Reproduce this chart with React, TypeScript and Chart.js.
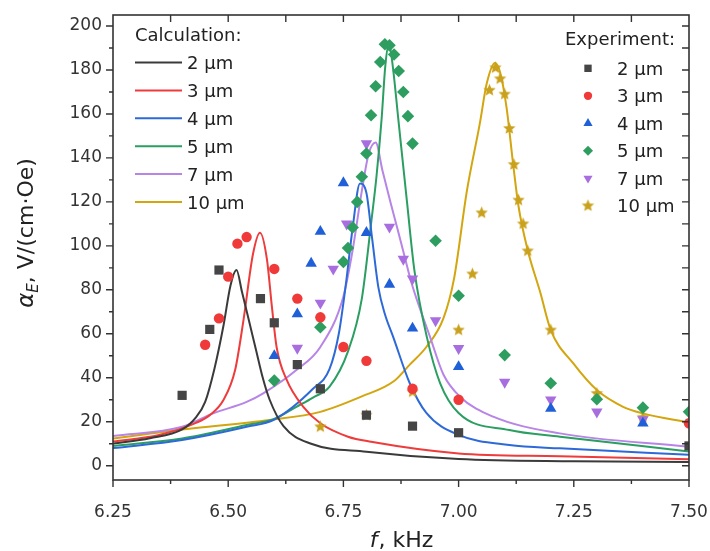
import React, { useEffect, useRef } from 'react';
import { Chart, registerables } from 'chart.js';
import { drawPoint } from 'chart.js/helpers';

Chart.register(...registerables);

const FONT = "'DejaVu Sans', 'Liberation Sans', Arial, sans-serif";

// ---- axis ticks ----
const xTickValues = [6.25, 6.5, 6.75, 7.0, 7.25, 7.5];
const yTickValues = [0, 20, 40, 60, 80, 100, 120, 140, 160, 180, 200];

// ---- labels ----
const sizeLabels = ['2 μm', '3 μm', '4 μm', '5 μm', '7 μm', '10 μm'];
const calcTitle = 'Calculation:';
const expTitle = 'Experiment:';

// ---- calculation curves (f in kHz, alpha_E in V/(cm·Oe)) ----
const calc2F = [6.25, 6.33, 6.40, 6.43, 6.45, 6.47, 6.49, 6.505, 6.518, 6.53, 6.545, 6.56, 6.575, 6.59, 6.62, 6.68, 6.80, 7.00, 7.25, 7.50];
const calc2V = [10, 12.5, 16.5, 22, 29, 44, 64, 82, 89, 79, 66, 53, 40, 30, 18, 10, 6.4, 3, 2, 1.7];

const calc3F = [6.25, 6.35, 6.43, 6.46, 6.49, 6.515, 6.533, 6.554, 6.569, 6.584, 6.595, 6.605, 6.627, 6.663, 6.70, 6.76, 6.81, 7.00, 7.22, 7.50];
const calc3V = [11, 14, 19.5, 23, 30, 43.5, 66, 96.5, 106, 94, 72, 54, 39, 26.8, 19.3, 13.2, 10.9, 5.6, 4.3, 2.9];

const calc4F = [6.25, 6.40, 6.54, 6.60, 6.684, 6.72, 6.74, 6.755, 6.77, 6.786, 6.80, 6.812, 6.826, 6.84, 6.858, 6.894, 6.93, 7.00, 7.11, 7.22, 7.50];
const calc4V = [8, 11.7, 17.7, 21, 35, 44, 60, 82, 108, 128.4, 124, 104, 81, 69, 58.6, 37.5, 24, 14, 9.4, 7.9, 5];

const calc5F = [6.25, 6.40, 6.54, 6.597, 6.648, 6.684, 6.72, 6.76, 6.79, 6.81, 6.822, 6.833, 6.841, 6.849, 6.857, 6.869, 6.888, 6.904, 6.931, 6.96, 7.00, 7.11, 7.22, 7.50];
const calc5V = [9, 12.4, 18.5, 21, 26.8, 31, 36, 52, 76, 110, 132, 158, 182, 192, 182, 158, 120, 89, 58.6, 37.5, 24, 16.2, 13.2, 6.5];

const calc7F = [6.25, 6.40, 6.467, 6.54, 6.576, 6.648, 6.70, 6.75, 6.77, 6.79, 6.805, 6.82, 6.835, 6.852, 6.867, 6.883, 6.898, 6.938, 6.967, 7.003, 7.075, 7.22, 7.50];
const calc7V = [13.5, 17.7, 23.8, 29, 32.9, 43.5, 54, 77, 98, 125, 142, 147, 134, 120, 108, 95, 83, 58.6, 41.5, 31.4, 22.3, 14.7, 8.6];

const calc10F = [6.25, 6.40, 6.59, 6.70, 6.79, 6.86, 6.894, 6.93, 6.967, 6.99, 7.018, 7.046, 7.061, 7.079, 7.09, 7.104, 7.119, 7.13, 7.15, 7.177, 7.20, 7.249, 7.30, 7.357, 7.40, 7.50];
const calc10V = [12.4, 16.5, 20.8, 24.5, 31.5, 38.5, 46, 54, 67, 85, 125, 155.6, 173.8, 183.2, 179, 163, 136, 118, 98, 79, 61.7, 46.5, 34.4, 26.8, 23.8, 19.6];

// ---- experiment points ----
const exp2F = [6.40, 6.46, 6.48, 6.57, 6.60, 6.65, 6.70, 6.80, 6.90, 7.00, 7.50];
const exp2V = [32, 62, 89, 76, 65, 46, 35, 23, 18, 15, 9];

const exp3F = [6.45, 6.48, 6.50, 6.52, 6.54, 6.60, 6.65, 6.70, 6.75, 6.80, 6.90, 7.00, 7.50];
const exp3V = [55, 67, 86, 101, 104, 89.5, 76, 67.5, 54, 47.7, 35, 30, 19.3];

const exp4F = [6.60, 6.65, 6.68, 6.70, 6.75, 6.80, 6.85, 6.90, 7.00, 7.20, 7.40];
const exp4V = [50, 69, 92, 106.5, 128.6, 106, 82.5, 62.5, 45, 26, 19.3];

const exp5F = [6.60, 6.70, 6.75, 6.76, 6.77, 6.78, 6.79, 6.80, 6.81, 6.82, 6.83, 6.84, 6.85, 6.86, 6.87, 6.88, 6.89, 6.90, 6.95, 7.00, 7.10, 7.20, 7.30, 7.40, 7.50];
const exp5V = [38.7, 63, 92.7, 99, 108.4, 120, 131.4, 142, 159.4, 172.6, 183.6, 191.7, 191.2, 187, 179.5, 170, 159, 146.5, 102.3, 77.3, 50.3, 37.5, 30.2, 26.4, 24.5];

const exp7F = [6.65, 6.70, 6.728, 6.757, 6.80, 6.85, 6.88, 6.90, 6.95, 7.00, 7.10, 7.20, 7.30, 7.40];
const exp7V = [53.5, 74, 89.5, 110, 146.5, 108.6, 94, 85, 66, 53.4, 38, 30, 24.5, 21];

const exp10F = [6.70, 6.80, 6.90, 7.00, 7.03, 7.05, 7.067, 7.08, 7.09, 7.10, 7.11, 7.12, 7.13, 7.14, 7.15, 7.20, 7.30, 7.40];
const exp10V = [17.7, 23, 33.6, 61.7, 87.2, 115, 170.8, 181, 176, 169, 153.4, 137, 120.8, 110, 97.7, 61.7, 32.9, 22];

const calcColors = ['#3a3a3a', '#ee3b3b', '#2d6ad8', '#2b9e62', '#b785e6', '#d3a50e'];
const expColors = ['#454545', '#f03a3a', '#1f5fd8', '#2e9e60', '#a86ee0', '#c9a11c'];

const toXY = (f: number[], v: number[]) => f.map((x, i) => ({ x, y: v[i] }));

function makeStar(color: string, r: number) {
  const c = document.createElement('canvas');
  const s = Math.ceil(r * 2 + 2);
  c.width = s;
  c.height = s;
  const g = c.getContext('2d')!;
  g.fillStyle = color;
  g.beginPath();
  for (let i = 0; i < 10; i++) {
    const rad = i % 2 === 0 ? r : r * 0.45;
    const a = -Math.PI / 2 + (i * Math.PI) / 5;
    const px = s / 2 + rad * Math.cos(a);
    const py = s / 2 + rad * Math.sin(a);
    if (i === 0) g.moveTo(px, py);
    else g.lineTo(px, py);
  }
  g.closePath();
  g.fill();
  return c;
}

const framePlugin = {
  id: 'frameAndLegends',
  afterDraw(chart: any) {
    const ctx = chart.ctx as CanvasRenderingContext2D;
    const { left, right, top, bottom } = chart.chartArea;
    const xs = chart.scales.x;
    const ys = chart.scales.y;
    const axisColor = '#333333';
    ctx.save();
    ctx.strokeStyle = axisColor;
    ctx.lineWidth = 1.6;
    ctx.strokeRect(left, top, right - left, bottom - top);
    ctx.lineWidth = 1.4;
    ctx.beginPath();
    // x ticks
    for (let i = 0; i < xTickValues.length; i++) {
      const v = xTickValues[i];
      const px = xs.getPixelForValue(v);
      ctx.moveTo(px, bottom);
      ctx.lineTo(px, bottom + 7);
      if (i > 0 && i < xTickValues.length - 1) {
        ctx.moveTo(px, top);
        ctx.lineTo(px, top + 7);
      }
      if (i < xTickValues.length - 1) {
        const m = (v + xTickValues[i + 1]) / 2;
        const pm = xs.getPixelForValue(m);
        ctx.moveTo(pm, bottom);
        ctx.lineTo(pm, bottom + 4);
        ctx.moveTo(pm, top);
        ctx.lineTo(pm, top + 7);
      }
    }
    // y ticks
    for (let i = 0; i < yTickValues.length; i++) {
      const v = yTickValues[i];
      const py = ys.getPixelForValue(v);
      ctx.moveTo(left, py);
      ctx.lineTo(left - 7, py);
      ctx.moveTo(right, py);
      ctx.lineTo(right - 7, py);
      if (i < yTickValues.length - 1) {
        const m = (v + yTickValues[i + 1]) / 2;
        const pm = ys.getPixelForValue(m);
        ctx.moveTo(left, pm);
        ctx.lineTo(left - 4, pm);
        ctx.moveTo(right, pm);
        ctx.lineTo(right - 7, pm);
      }
    }
    ctx.stroke();

    // axis titles
    ctx.fillStyle = '#222222';
    ctx.textBaseline = 'alphabetic';
    // x title
    const fx = 'italic 22px ' + FONT;
    const nx = '22px ' + FONT;
    ctx.font = fx;
    const wf = ctx.measureText('f').width;
    ctx.font = nx;
    const wr = ctx.measureText(', kHz').width;
    const cx = (left + right) / 2;
    const sx = cx - (wf + wr) / 2;
    ctx.font = fx;
    ctx.textAlign = 'left';
    ctx.fillText('f', sx, 547);
    ctx.font = nx;
    ctx.fillText(', kHz', sx + wf + 1, 547);
    // y title
    ctx.save();
    ctx.translate(33, 233);
    ctx.rotate(-Math.PI / 2);
    const fa = 'italic 23px ' + FONT;
    const fe = 'italic 15px ' + FONT;
    const fr = '22px ' + FONT;
    ctx.font = fa;
    const wa = ctx.measureText('α').width;
    ctx.font = fe;
    const we = ctx.measureText('E').width;
    ctx.font = fr;
    const wrest = ctx.measureText(', V/(cm·Oe)').width;
    let tx = -(wa + we + wrest) / 2;
    ctx.font = fa;
    ctx.fillText('α', tx, 0);
    tx += wa;
    ctx.font = fe;
    ctx.fillText('E', tx, 5);
    tx += we;
    ctx.font = fr;
    ctx.fillText(', V/(cm·Oe)', tx, 0);
    ctx.restore();

    // legends
    const ds = chart.data.datasets;
    const calcSets = ds.filter((d: any) => d.group === 'calc');
    const expSets = ds.filter((d: any) => d.group === 'exp');
    ctx.font = '18px ' + FONT;
    ctx.fillStyle = '#222222';
    ctx.fillText(calcTitle, 135, 41);
    calcSets.forEach((d: any, i: number) => {
      const y = 62.5 + i * 27.9;
      ctx.strokeStyle = d.borderColor;
      ctx.lineWidth = 2;
      ctx.beginPath();
      ctx.moveTo(135, y);
      ctx.lineTo(182, y);
      ctx.stroke();
      ctx.fillStyle = '#222222';
      ctx.fillText(d.label, 187, y + 6.5);
    });
    ctx.fillText(expTitle, 565, 45);
    expSets.forEach((d: any, i: number) => {
      const y = 68.3 + i * 27.5;
      ctx.fillStyle = d.backgroundColor;
      ctx.strokeStyle = d.backgroundColor;
      const isImg = typeof d.pointStyle !== 'string';
      drawPoint(ctx, {
        pointStyle: d.pointStyle,
        rotation: d.pointRotation || 0,
        radius: isImg ? d.pointRadius : d.pointRadius * 0.8,
        borderWidth: 0,
      } as any, 588, y);
      ctx.fillStyle = '#222222';
      ctx.fillText(d.label, 617, y + 6.5);
    });
    ctx.restore();
  },
};

export default function App() {
  const ref = useRef<HTMLCanvasElement | null>(null);

  useEffect(() => {
    document.body.style.margin = '0';
    const canvas = ref.current;
    if (!canvas) return;
    const starData = makeStar(expColors[5], 6.5);

    const calcF = [calc2F, calc3F, calc4F, calc5F, calc7F, calc10F];
    const calcV = [calc2V, calc3V, calc4V, calc5V, calc7V, calc10V];
    const expF = [exp2F, exp3F, exp4F, exp5F, exp7F, exp10F];
    const expV = [exp2V, exp3V, exp4V, exp5V, exp7V, exp10V];
    const styles: any[] = ['rect', 'circle', 'triangle', 'rectRot', 'triangle', starData];
    const rotations = [0, 0, 0, 0, 180, 0];
    const radii = [6.5, 5.2, 6.6, 6.3, 6.6, 6.5];

    const expSets = expF.map((f, i) => ({
      type: 'scatter',
      group: 'exp',
      label: sizeLabels[i],
      data: toXY(f, expV[i]),
      showLine: false,
      pointStyle: styles[i],
      pointRotation: rotations[i],
      pointRadius: radii[i],
      pointBorderWidth: 0,
      backgroundColor: expColors[i],
      borderColor: expColors[i],
      order: 0,
    }));
    const calcSets = calcF.map((f, i) => ({
      type: 'scatter',
      group: 'calc',
      label: sizeLabels[i],
      data: toXY(f, calcV[i]),
      showLine: true,
      pointRadius: 0,
      borderColor: calcColors[i],
      backgroundColor: calcColors[i],
      borderWidth: 2,
      cubicInterpolationMode: 'monotone',
      fill: false,
      order: 1,
    }));

    const tickFont = { family: FONT, size: 17 };
    const chart = new Chart(canvas, {
      type: 'scatter',
      data: { datasets: [...expSets, ...calcSets] as any },
      options: {
        responsive: false,
        animation: false,
        events: [],
        layout: { padding: { top: 15, right: 21, left: 0, bottom: 0 } },
        plugins: { legend: { display: false }, tooltip: { enabled: false } },
        scales: {
          x: {
            type: 'linear',
            min: 6.25,
            max: 7.5,
            grid: { display: false, drawTicks: false },
            border: { display: false },
            afterBuildTicks: (s: any) => {
              s.ticks = xTickValues.map((v) => ({ value: v }));
            },
            afterFit: (s: any) => {
              s.height = 71;
              s.paddingLeft = 0;
              s.paddingRight = 0;
            },
            ticks: {
              font: tickFont,
              color: '#333333',
              padding: 22,
              maxRotation: 0,
              autoSkip: false,
              callback: (v: any) => Number(v).toFixed(2),
            },
          },
          y: {
            type: 'linear',
            min: -6.5,
            max: 205,
            grid: { display: false, drawTicks: false },
            border: { display: false },
            afterBuildTicks: (s: any) => {
              s.ticks = yTickValues.map((v) => ({ value: v }));
            },
            afterFit: (s: any) => {
              s.width = 113;
              s.paddingTop = 0;
              s.paddingBottom = 0;
            },
            ticks: {
              font: tickFont,
              color: '#333333',
              padding: 11,
              autoSkip: false,
              callback: (v: any) => String(v),
            },
          },
        },
      } as any,
      plugins: [framePlugin],
    });
    return () => chart.destroy();
  }, []);

  return (
    <div style={{ width: 710, height: 551, background: '#ffffff' }}>
      <canvas ref={ref} width={710} height={551} style={{ display: 'block', width: 710, height: 551 }} />
    </div>
  );
}
